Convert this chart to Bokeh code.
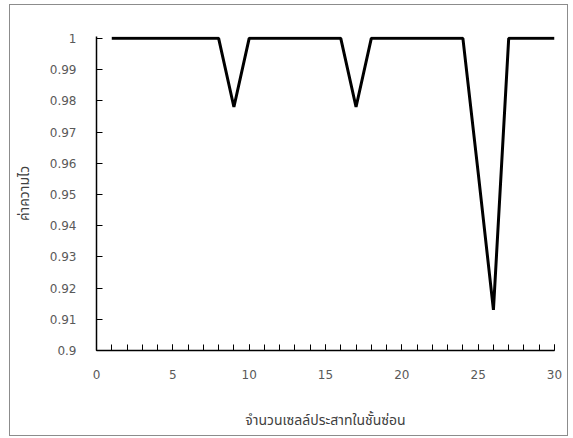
from bokeh.plotting import figure
from bokeh.models import FixedTicker, Range1d
from bokeh.embed import file_html
from bokeh.resources import INLINE

neurons = list(range(1, 31))
sensitivity = [1, 1, 1, 1, 1, 1, 1, 1, 0.978, 1,
               1, 1, 1, 1, 1, 1, 0.978, 1, 1, 1,
               1, 1, 1, 1, 0.957, 0.913, 1, 1, 1, 1]
x_ticks = [0, 5, 10, 15, 20, 25, 30]
y_ticks = [0.9, 0.91, 0.92, 0.93, 0.94, 0.95, 0.96, 0.97, 0.98, 0.99, 1.0]
y_tick_labels = ["0.9", "0.91", "0.92", "0.93", "0.94", "0.95", "0.96", "0.97", "0.98", "0.99", "1"]
x_label = "จำนวนเซลล์ประสาทในชั้นซ่อน"
y_label = "ค่าความไว"

THAI = "Tahoma, 'Noto Sans Thai', 'Noto Sans', 'DejaVu Sans', sans-serif"
NUM = "'DejaVu Sans', Tahoma, sans-serif"

p = figure(width=559, height=432, output_backend="svg", toolbar_location=None,
           x_range=Range1d(0, 30), y_range=Range1d(0.9, 1.0006),
           min_border_left=83, min_border_right=15, min_border_top=31, min_border_bottom=87)
p.styles = {"border": "1px solid #8c8c8c", "margin-left": "9px", "margin-top": "4px"}
p.outline_line_color = None
p.xgrid.visible = False
p.ygrid.visible = False
p.background_fill_color = "white"
p.border_fill_color = "white"

p.line(neurons, sensitivity, line_color="black", line_width=3)

xa = p.xaxis[0]
xa.ticker = FixedTicker(ticks=x_ticks, minor_ticks=list(range(0, 31)))
xa.major_tick_in = 6
xa.major_tick_out = 0
xa.minor_tick_in = 6
xa.minor_tick_out = 0
xa.axis_line_color = "black"
xa.axis_line_width = 1.5
xa.major_tick_line_color = "black"
xa.minor_tick_line_color = "black"
xa.major_tick_line_width = 1
xa.minor_tick_line_width = 1
xa.major_label_text_font = NUM
xa.major_label_text_font_size = "12px"
xa.major_label_text_color = "#595959"
xa.major_label_standoff = 19
xa.axis_label = x_label
xa.axis_label_text_font = THAI
xa.axis_label_text_font_size = "14px"
xa.axis_label_text_font_style = "normal"
xa.axis_label_text_color = "#404040"
xa.axis_label_standoff = 28

ya = p.yaxis[0]
ya.ticker = FixedTicker(ticks=y_ticks, minor_ticks=[])
ya.major_label_overrides = {t: l for t, l in zip(y_ticks, y_tick_labels)}
ya.major_tick_in = 6
ya.major_tick_out = 0
ya.minor_tick_line_color = None
ya.axis_line_color = "black"
ya.axis_line_width = 1.5
ya.major_tick_line_color = "black"
ya.major_label_text_font = NUM
ya.major_label_text_font_size = "12px"
ya.major_label_text_color = "#595959"
ya.major_label_standoff = 20
ya.axis_label = y_label
ya.axis_label_text_font = THAI
ya.axis_label_text_font_size = "14px"
ya.axis_label_text_font_style = "normal"
ya.axis_label_text_color = "#404040"
ya.axis_label_standoff = 12

open("out.html", "w").write(file_html(p, INLINE))
